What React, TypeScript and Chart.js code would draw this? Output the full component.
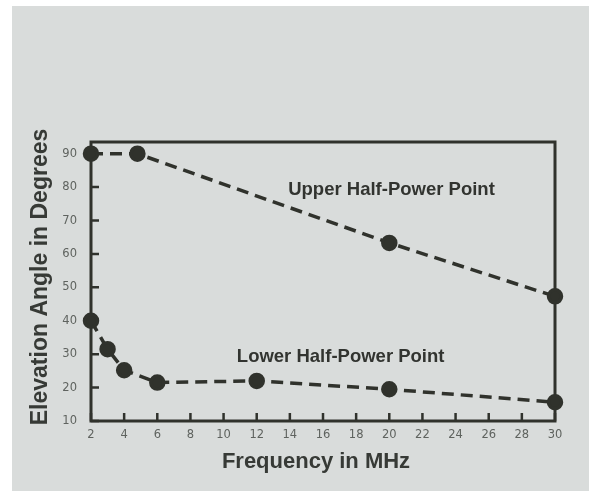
import React, { useEffect, useRef } from "react";
import { Chart, registerables } from "chart.js";

Chart.register(...registerables);

// Data
const upperFreq = [2, 4.8, 20, 30];
const upperAngle = [90, 90, 63.3, 47.3];
const lowerFreq = [2, 3, 4, 6, 12, 20, 30];
const lowerAngle = [40, 31.5, 25.2, 21.5, 22, 19.5, 15.6];
const xTickValues = [2, 4, 6, 8, 10, 12, 14, 16, 18, 20, 22, 24, 26, 28, 30];
const yTickValues = [10, 20, 30, 40, 50, 60, 70, 80, 90];

const xTitle = "Frequency in MHz";
const yTitle = "Elevation Angle in Degrees";
const upperLabel = "Upper Half-Power Point";
const lowerLabel = "Lower Half-Power Point";

const INK = "rgb(48,50,44)";
const TICK_TEXT = "rgb(95,99,95)";

export default function App() {
  const ref = useRef<HTMLCanvasElement | null>(null);

  useEffect(() => {
    if (!ref.current) return;
    const overlay = {
      id: "overlay",
      beforeDatasetsDraw(chart: any) {
        const { ctx, chartArea, scales } = chart;
        ctx.save();
        ctx.strokeStyle = INK;
        ctx.lineWidth = 3;
        ctx.strokeRect(chartArea.left, chartArea.top, chartArea.right - chartArea.left, chartArea.bottom - chartArea.top);
        ctx.lineWidth = 2.5;
        ctx.beginPath();
        scales.x.ticks.forEach((t: any) => {
          const px = scales.x.getPixelForValue(t.value);
          ctx.moveTo(px, chartArea.bottom);
          ctx.lineTo(px, chartArea.bottom - 8);
        });
        scales.y.ticks.forEach((t: any) => {
          const py = scales.y.getPixelForValue(t.value);
          ctx.moveTo(chartArea.left, py);
          ctx.lineTo(chartArea.left + 8, py);
        });
        ctx.stroke();
        ctx.restore();
      },
      afterDraw(chart: any) {
        const { ctx, chartArea, scales } = chart;
        ctx.save();
        ctx.fillStyle = "rgb(50,52,48)";
        ctx.font = "bold 18.5px 'Liberation Sans', Arial, sans-serif";
        ctx.textAlign = "left";
        ctx.textBaseline = "middle";
        ctx.fillText(upperLabel, scales.x.getPixelForValue(13.9), scales.y.getPixelForValue(79.2));
        ctx.fillText(lowerLabel, scales.x.getPixelForValue(10.8), scales.y.getPixelForValue(29.1));

        ctx.fillStyle = "rgb(55,58,54)";
        ctx.font = "bold 22px 'Liberation Sans', Arial, sans-serif";
        ctx.textAlign = "center";
        ctx.fillText(xTitle, chartArea.left + 225, chartArea.bottom + 41);
        ctx.font = "bold 23px 'Liberation Sans', Arial, sans-serif";
        ctx.translate(41, 277);
        ctx.rotate(-Math.PI / 2);
        ctx.fillText(yTitle, 0, 0);
        ctx.restore();
      },
    };

    const chart = new Chart(ref.current, {
      type: "scatter",
      data: {
        datasets: [
          {
            label: upperLabel,
            data: upperFreq.map((f, i) => ({ x: f, y: upperAngle[i] })),
            showLine: true,
            borderColor: INK,
            backgroundColor: INK,
            borderWidth: 3.5,
            borderDash: [12, 7],
            pointRadius: 6.5,
            pointBackgroundColor: INK,
            pointBorderColor: INK,
            clip: false,
          },
          {
            label: lowerLabel,
            data: lowerFreq.map((f, i) => ({ x: f, y: lowerAngle[i] })),
            showLine: true,
            borderColor: INK,
            backgroundColor: INK,
            borderWidth: 3.5,
            borderDash: [12, 7],
            pointRadius: 6.5,
            pointBackgroundColor: INK,
            pointBorderColor: INK,
            clip: false,
          },
        ],
      },
      options: {
        animation: false,
        responsive: false,
        devicePixelRatio: 1,
        layout: { padding: { left: 0, top: 142, right: 34, bottom: 0 } },
        plugins: { legend: { display: false }, tooltip: { enabled: false } },
        scales: {
          x: {
            type: "linear",
            min: 2,
            max: 30,
            afterBuildTicks: (s: any) => {
              s.ticks = xTickValues.map((v) => ({ value: v }));
            },
            afterFit: (s: any) => {
              s.height = 70;
            },
            border: { display: false },
            grid: { display: false, drawTicks: false },
            ticks: {
              padding: 7,
              maxRotation: 0,
              autoSkip: false,
              color: TICK_TEXT,
              font: { family: "'DejaVu Sans', sans-serif", size: 11.5 },
            },
          },
          y: {
            type: "linear",
            min: 10,
            max: 93.5,
            afterBuildTicks: (s: any) => {
              s.ticks = yTickValues.map((v) => ({ value: v }));
            },
            afterFit: (s: any) => {
              s.width = 91;
            },
            border: { display: false },
            grid: { display: false, drawTicks: false },
            ticks: {
              padding: 14,
              autoSkip: false,
              color: TICK_TEXT,
              font: { family: "'DejaVu Sans', sans-serif", size: 11.5 },
            },
          },
        },
      },
      plugins: [overlay],
    });
    return () => chart.destroy();
  }, []);

  return (
    <div style={{ position: "absolute", left: 0, top: 0, width: 589, height: 491, background: "#ffffff" }}>
      <div style={{ position: "absolute", left: 12, top: 6, right: 0, bottom: 0, background: "#d9dcdb" }} />
      <canvas ref={ref} width={589} height={491} style={{ position: "absolute", left: 0, top: 0 }} />
    </div>
  );
}
